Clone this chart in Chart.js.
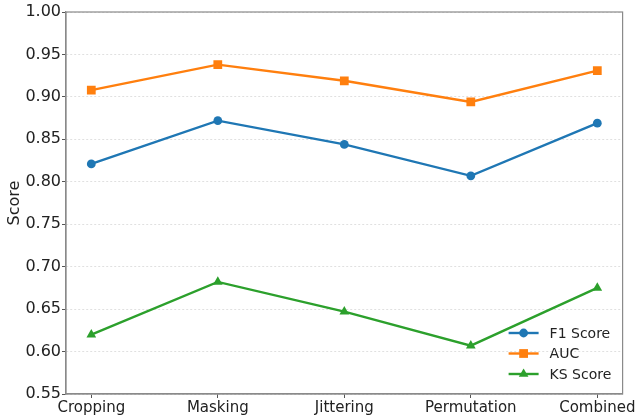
<!DOCTYPE html>
<html>
<head>
<meta charset="utf-8">
<script src="https://cdn.jsdelivr.net/npm/chart.js@4/dist/chart.umd.min.js"></script>
<style>
  html, body { margin: 0; padding: 0; background: #fff; }
  #wrap { width: 637px; height: 420px; }
</style>
</head>
<body>
<div id="wrap"><canvas id="c" width="637" height="420"></canvas></div>
<script>
// Augmentation strategies and their evaluation scores
const categories = ['Cropping', 'Masking', 'Jittering', 'Permutation', 'Combined'];
const f1Score = [0.821, 0.872, 0.844, 0.807, 0.869];
const aucScore = [0.908, 0.938, 0.919, 0.894, 0.931];
const ksScore = [0.620, 0.682, 0.647, 0.607, 0.675];
const yTicks = [0.55, 0.60, 0.65, 0.70, 0.75, 0.80, 0.85, 0.90, 0.95, 1.00];

const FONT = "'DejaVu Sans', sans-serif";
const TEXT = '#222';

const toPoints = arr => arr.map((v, i) => ({ x: i, y: v }));

// Full frame around the plot area
const frame = {
  id: 'frame',
  afterDatasetsDraw(chart) {
    const a = chart.chartArea, ctx = chart.ctx;
    ctx.save();
    ctx.strokeStyle = '#8a8a8a';
    ctx.lineWidth = 1.2;
    ctx.strokeRect(a.left, a.top, a.right - a.left, a.bottom - a.top);
    ctx.restore();
  }
};

// Legend with line + marker samples, bottom-right inside the plot
const innerLegend = {
  id: 'innerLegend',
  afterDraw(chart) {
    const ctx = chart.ctx, a = chart.chartArea;
    const x0 = a.right - 114, y0 = a.bottom - 61, gap = 20.5;
    ctx.save();
    chart.data.datasets.forEach((ds, i) => {
      const y = y0 + i * gap;
      ctx.strokeStyle = ds.borderColor;
      ctx.lineWidth = ds.borderWidth;
      ctx.beginPath();
      ctx.moveTo(x0, y);
      ctx.lineTo(x0 + 30, y);
      ctx.stroke();
      ctx.fillStyle = ds.backgroundColor;
      Chart.helpers.drawPoint(ctx, {
        pointStyle: ds.pointStyle, radius: ds.pointRadius, rotation: 0, borderWidth: 0
      }, x0 + 15, y);
      ctx.fillStyle = TEXT;
      ctx.font = '14px ' + FONT;
      ctx.textBaseline = 'middle';
      ctx.textAlign = 'left';
      ctx.fillText(ds.label, x0 + 41, y + 1);
    });
    ctx.restore();
  }
};

const mk = (label, values, color, style, r) => ({
  label, data: toPoints(values),
  borderColor: color, backgroundColor: color,
  borderWidth: 2.4, tension: 0,
  pointStyle: style, pointRadius: r, pointHoverRadius: r,
  pointBorderWidth: 0
});

new Chart(document.getElementById('c'), {
  type: 'line',
  data: {
    datasets: [
      mk('F1 Score', f1Score, '#1f77b4', 'circle', 4.4),
      mk('AUC', aucScore, '#ff7f0e', 'rect', 6.2),
      mk('KS Score', ksScore, '#2ca02c', 'triangle', 5.6)
    ]
  },
  options: {
    responsive: false,
    animation: false,
    layout: { padding: { top: 12, right: 13, left: 0, bottom: 0 } },
    plugins: { legend: { display: false }, tooltip: { enabled: false } },
    scales: {
      x: {
        type: 'linear',
        min: -0.2, max: 4.2,
        afterBuildTicks(scale) { scale.ticks = categories.map((_, i) => ({ value: i })); },
        afterFit(scale) { scale.height = 26; },
        ticks: {
          callback: v => categories[v] ?? '',
          font: { family: FONT, size: 15 }, color: TEXT,
          padding: 1, maxRotation: 0, autoSkip: false
        },
        grid: {
          drawOnChartArea: false, drawTicks: true, tickLength: 4,
          tickColor: '#555', tickWidth: 1
        },
        border: { color: '#8a8a8a', width: 1.2 }
      },
      y: {
        min: 0.55, max: 1.00,
        afterBuildTicks(scale) { scale.ticks = yTicks.map(v => ({ value: v })); },
        afterFit(scale) { scale.width = 66; },
        ticks: {
          callback: v => v.toFixed(2),
          font: { family: FONT, size: 16 }, color: TEXT, padding: 1
        },
        grid: {
          color: '#d9d9d9', lineWidth: 0.8,
          drawTicks: true, tickLength: 4, tickColor: '#555', tickWidth: 1,
          tickBorderDash: []
        },
        border: { color: '#8a8a8a', width: 1.2, dash: [2, 2] },
        title: {
          display: true, text: 'Score',
          font: { family: FONT, size: 16 }, color: TEXT,
          padding: { top: 5, bottom: 0 }
        }
      }
    }
  },
  plugins: [frame, innerLegend]
});
</script>
</body>
</html>
